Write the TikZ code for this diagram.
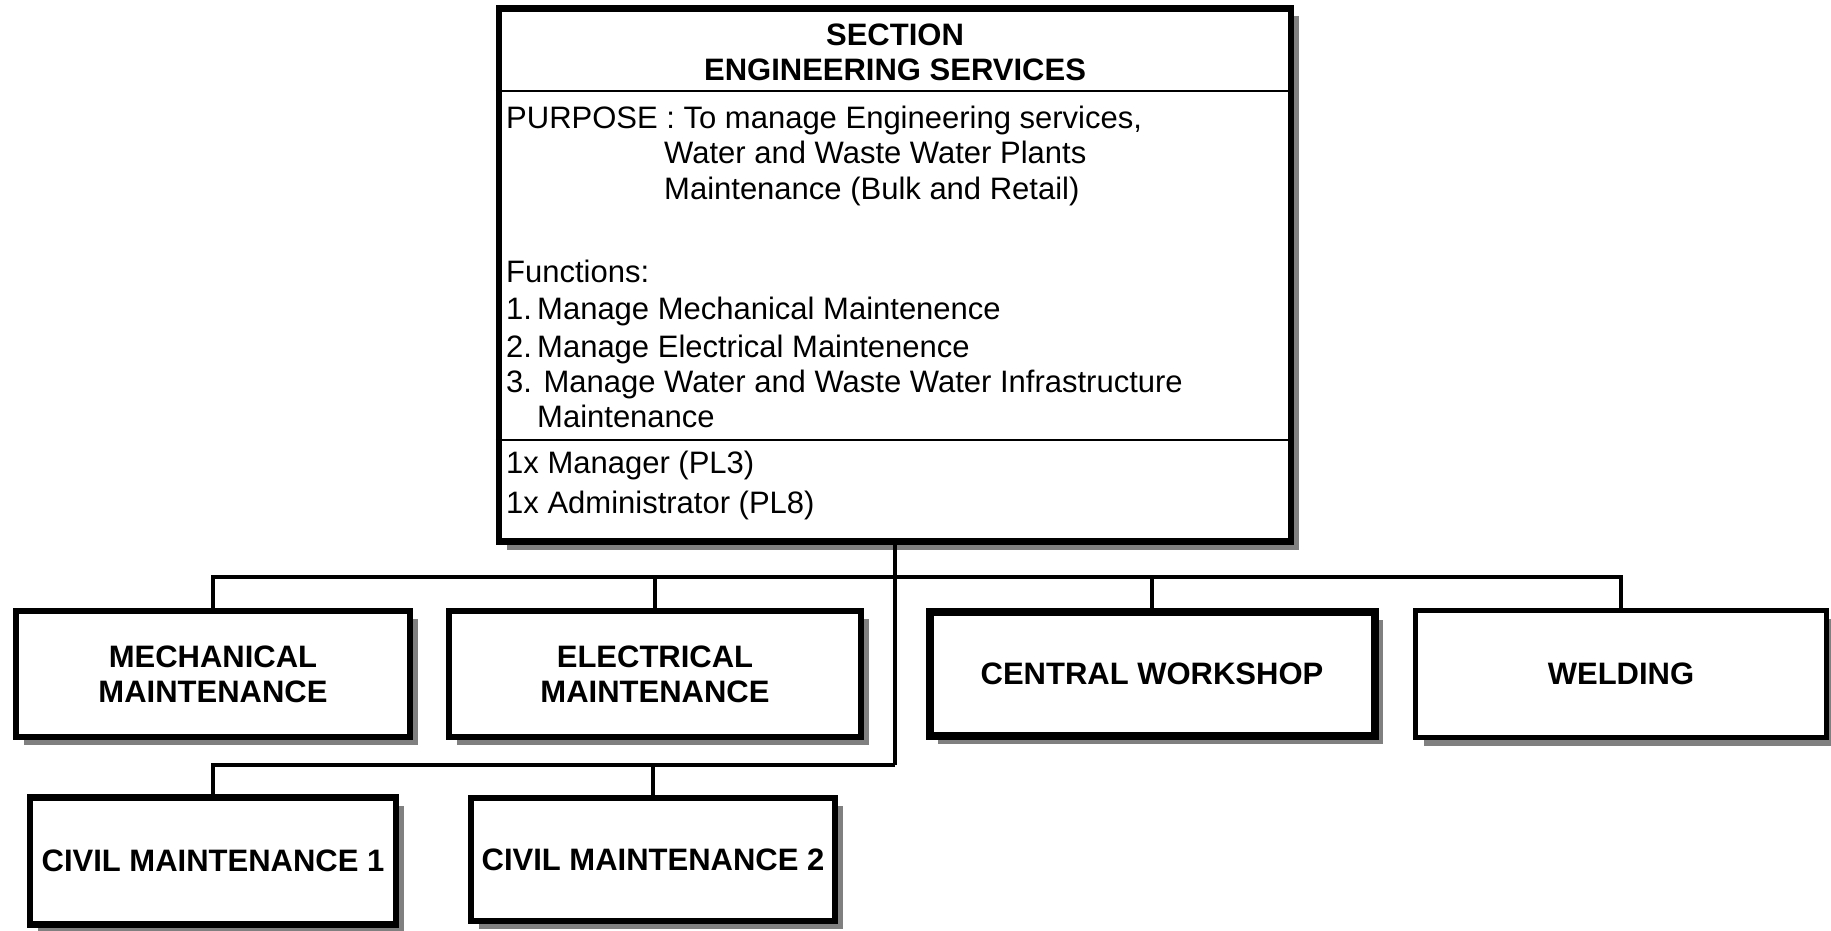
\documentclass[tikz,border=0pt]{standalone}
\usepackage{fontspec}
\setmainfont{Liberation Sans}
\usetikzlibrary{shadows}
\definecolor{shadowgray}{RGB}{128,128,128}
\begin{document}
\begin{tikzpicture}[x=1pt,y=-1pt,
  orgbox/.style={draw=black, fill=white, line width=#1, inner sep=0pt, align=center,
    font=\fontsize{31}{35}\selectfont\bfseries,
    drop shadow={shadow xshift=8pt, shadow yshift=-8pt, fill=shadowgray, opacity=1}},
  body/.style={anchor=base west, inner sep=0pt, font=\fontsize{31}{35}\selectfont},
  conn/.style={draw=black, line width=4.5pt},
  divider/.style={draw=black, line width=2.5pt}]
\useasboundingbox (0,0) rectangle (1831,931);
\fill[white] (0,0) rectangle (1831,931);

% main box
\node[orgbox=6.5pt, minimum width=792pt, minimum height=533pt] (main) at (895,275) {};
\node[inner sep=0pt, align=center, font=\fontsize{31}{35}\selectfont\bfseries] (title) at (895,52) {SECTION\\ENGINEERING SERVICES};
\draw[divider] (main.west |- 0,91) -- (main.east |- 0,91);
\draw[divider] (main.west |- 0,440) -- (main.east |- 0,440);

\node[body] (p1) at (506,129) {PURPOSE : To manage Engineering services,};
\node[body] (p2) at (664,164) {Water and Waste Water Plants};
\node[body] (p3) at (664,199) {Maintenance (Bulk and Retail)};
\node[body] (f0) at (506,282) {Functions:};
\node[body] (f1) at (506,319) {1.\,Manage Mechanical Maintenence};
\node[body] (f2) at (506,357) {2.\,Manage Electrical Maintenence};
\node[body] (f3) at (506,392) {3. Manage Water and Waste Water Infrastructure};
\node[body] (f4) at (537,427) {Maintenance};
\node[body] (s1) at (506,473) {1x Manager (PL3)};
\node[body] (s2) at (506,513) {1x Administrator (PL8)};

% row 1
\node[orgbox=6pt, minimum width=394pt, minimum height=126pt] (mech) at (213,674) {MECHANICAL\\MAINTENANCE};
\node[orgbox=6pt, minimum width=412pt, minimum height=126pt] (elec) at (655,674) {ELECTRICAL\\MAINTENANCE};
\node[orgbox=8pt, minimum width=445pt, minimum height=124pt] (cw) at (1152,674) {CENTRAL WORKSHOP};
\node[orgbox=5pt, minimum width=411pt, minimum height=127pt] (weld) at (1621,674) {WELDING};

% row 2
\node[orgbox=6.5pt, minimum width=366pt, minimum height=127pt] (civ1) at (213,861) {CIVIL MAINTENANCE 1};
\node[orgbox=6pt, minimum width=364pt, minimum height=123pt] (civ2) at (653,859.5) {CIVIL MAINTENANCE 2};

% connectors
\coordinate (b1) at (895,577);
\coordinate (b2) at (895,765);
\draw[conn] (main.south) -- (b2);
\draw[conn] (mech.north) |- (b1) -| (weld.north);
\draw[conn] (elec.north) -- (elec.north |- b1);
\draw[conn] (cw.north) -- (cw.north |- b1);
\draw[conn] (civ1.north) |- (b2);
\draw[conn] (civ2.north) -- (civ2.north |- b2);
\end{tikzpicture}
\end{document}
